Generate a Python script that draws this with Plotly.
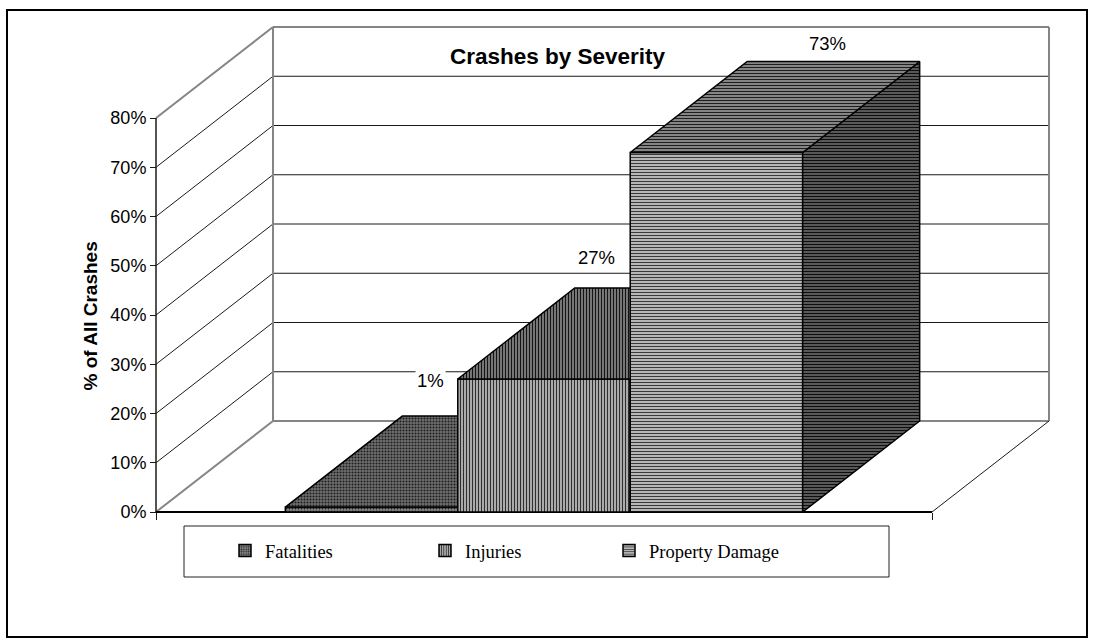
import plotly.graph_objects as go

# ---- data -------------------------------------------------------------
categories = ["Fatalities", "Injuries", "Property Damage"]
shares = [1, 27, 73]                      # % of all crashes
y_ticks = [0, 10, 20, 30, 40, 50, 60, 70, 80]
y_tick_labels = [f"{t}%" for t in y_ticks]
chart_title = "Crashes by Severity"
y_title = "% of All Crashes"

# ---- page / projection geometry --------------------------------------
W, H = 1094, 644
FRONT_LEFT_PX, FRONT_RIGHT_PX = 156, 932   # front floor edge on the page
ZERO_PX = 512                               # 0% on the front plane
PX_PER_PCT = 4.925
DEPTH_PX_X, DEPTH_PX_Y = 117, 91            # oblique depth of the chart box

CAT_PX = FRONT_RIGHT_PX - FRONT_LEFT_PX
DX = DEPTH_PX_X / CAT_PX                    # depth in category units
DY = DEPTH_PX_Y / PX_PER_PCT                # depth in % units
Y_MAX = y_ticks[-1]
GAP_WIDTH = 1.5                             # gap as a fraction of bar width

X_RANGE = [-FRONT_LEFT_PX / CAT_PX, (W - FRONT_LEFT_PX) / CAT_PX]
Y_RANGE = [-(H - ZERO_PX) / PX_PER_PCT, ZERO_PX / PX_PER_PCT]

n = len(categories)
bar_w = 1.0 / (n + GAP_WIDTH)
group_start = GAP_WIDTH * bar_w / 2

SANS = "Arial, Liberation Sans, sans-serif"
SERIF = "Times New Roman, Liberation Serif, serif"

# face patterns: (shape, fg, bg, size, solidity)
faces = {
    "Fatalities": {
        "front": (".", "#1e1e1e", "#8a8a8a", 3, 0.4),
        "top": (".", "#1e1e1e", "#707070", 3, 0.4),
        "side": (".", "#111111", "#555555", 3, 0.4),
    },
    "Injuries": {
        "front": ("|", "#2e2e2e", "#c4c4c4", 3, 0.45),
        "top": ("|", "#141414", "#8a8a8a", 3, 0.45),
        "side": ("|", "#111111", "#666666", 3, 0.45),
    },
    "Property Damage": {
        "front": ("-", "#3a3a3a", "#d0d0d0", 3, 0.45),
        "top": ("-", "#1e1e1e", "#9a9a9a", 3, 0.45),
        "side": ("-", "#0e0e0e", "#707070", 3, 0.5),
    },
}

# label placement relative to the centre of each bar's top face
label_dx = [0.0, -0.008, 0.068]
label_dy = [7.3, 6.3, 3.7]


def pat(spec):
    shape, fg, bg, size, sol = spec
    return dict(shape=shape, fgcolor=fg, bgcolor=bg, size=size,
                solidity=sol, fillmode="replace")


fig = go.Figure()


def lines(xs, ys, color, width):
    fig.add_trace(go.Scatter(x=xs, y=ys, mode="lines", hoverinfo="skip",
                             line=dict(color=color, width=width),
                             showlegend=False, xaxis="x", yaxis="y"))


GRAY = "#858585"
# side wall gridlines (diagonals) and back wall gridlines
gx, gy, ex, ey = [], [], [], []
for t in y_ticks:
    seg_x = [0, DX, None, DX, 1 + DX, None]
    seg_y = [t, t + DY, None, t + DY, t + DY, None]
    if t in (0, Y_MAX):
        ex += seg_x
        ey += seg_y
    else:
        gx += seg_x
        gy += seg_y
# back wall vertical edges
ex += [DX, DX, None, 1 + DX, 1 + DX, None]
ey += [DY, Y_MAX + DY, None, DY, Y_MAX + DY, None]
lines(gx, gy, "#1a1a1a", 1)
lines(ex, ey, GRAY, 2)
# floor right edge
lines([1, 1 + DX], [0, DY], "#1a1a1a", 1)
# front value axis line and floor front edge
lines([0, 0], [0, Y_MAX], "#1a1a1a", 1.5)
lines([0, 1], [0, 0], "#000000", 2)

# bars, each on its own overlaid subplot so later bars sit in front
for i, (name, v) in enumerate(zip(categories, shares)):
    xa, ya = f"x{i + 2}", f"y{i + 2}"
    x_l = group_start + i * bar_w
    x_r = x_l + bar_w
    st = faces[name]
    fig.add_trace(go.Bar(
        x=[x_l + bar_w / 2], y=[v], width=[bar_w], name=name,
        xaxis=xa, yaxis=ya, hoverinfo="skip",
        legend="legend" if i == 0 else f"legend{i + 1}",
        marker=dict(color=st["front"][2], pattern=pat(st["front"]),
                    line=dict(color="black", width=1.5)),
    ))
    fig.add_trace(go.Scatter(
        x=[x_r, x_r + DX, x_r + DX, x_r, x_r],
        y=[0, DY, v + DY, v, 0],
        fill="toself", fillcolor=st["side"][2], fillpattern=pat(st["side"]),
        mode="lines", line=dict(color="black", width=1.5),
        xaxis=xa, yaxis=ya, showlegend=False, hoverinfo="skip"))
    fig.add_trace(go.Scatter(
        x=[x_l, x_r, x_r + DX, x_l + DX, x_l],
        y=[v, v, v + DY, v + DY, v],
        fill="toself", fillcolor=st["top"][2], fillpattern=pat(st["top"]),
        mode="lines", line=dict(color="black", width=1.5),
        xaxis=xa, yaxis=ya, showlegend=False, hoverinfo="skip"))

# value labels
annotations = []
for i, v in enumerate(shares):
    cx = group_start + (i + 0.5) * bar_w + DX / 2 + label_dx[i]
    annotations.append(dict(
        x=cx, y=v + DY + label_dy[i], xref="x", yref="y",
        text=f"{v}%", showarrow=False, bgcolor="white",
        font=dict(family=SANS, size=18.5, color="black")))

annotations.append(dict(
    x=558 / W, y=1 - 42 / H, xref="paper", yref="paper",
    text=f"<b>{chart_title}</b>", showarrow=False,
    font=dict(family=SANS, size=22.5, color="black")))
annotations.append(dict(
    x=78 / W, y=1 - 316 / H, xref="paper", yref="paper",
    text=f"<b>{y_title}</b>", showarrow=False, textangle=-90,
    font=dict(family=SANS, size=19, color="black")))

shapes = [
    dict(type="rect", xref="paper", yref="paper",
         x0=7 / W, x1=1087 / W, y0=1 - 637 / H, y1=1 - 10 / H,
         line=dict(color="black", width=2), layer="below"),
    dict(type="rect", xref="paper", yref="paper",
         x0=184 / W, x1=889 / W, y0=1 - 577 / H, y1=1 - 526 / H,
         line=dict(color="#222222", width=1)),
]

legend_centres = [245, 445, 629]
legend_common = dict(orientation="h", xanchor="left", yanchor="middle",
                     y=1 - 551 / H, bgcolor="rgba(0,0,0,0)", borderwidth=0,
                     font=dict(family=SERIF, size=18.5, color="black"))
legends = {}
for i, cx in enumerate(legend_centres):
    key = "legend" if i == 0 else f"legend{i + 1}"
    legends[key] = dict(legend_common, x=(cx - 20) / W)

axis_hidden = dict(range=X_RANGE, visible=False, fixedrange=True)
yaxis_hidden = dict(range=Y_RANGE, visible=False, fixedrange=True)

layout = dict(
    width=W, height=H,
    margin=dict(l=0, r=0, t=0, b=0, pad=0),
    paper_bgcolor="white", plot_bgcolor="white",
    barmode="overlay",
    showlegend=True,
    xaxis=dict(range=X_RANGE, anchor="free", position=1 - ZERO_PX / H,
               tickvals=[0, 1], ticks="outside", ticklen=7,
               tickcolor="#1a1a1a", showticklabels=False, showgrid=False,
               zeroline=False, showline=False, fixedrange=True),
    yaxis=dict(range=Y_RANGE, anchor="free", position=FRONT_LEFT_PX / W,
               tickvals=y_ticks, ticktext=y_tick_labels, ticks="outside",
               ticklen=6, tickcolor="#1a1a1a", showgrid=False,
               zeroline=False, showline=False, fixedrange=True,
               tickfont=dict(family=SANS, size=18, color="black")),
    annotations=annotations,
    shapes=shapes,
)
for i in range(n):
    layout[f"xaxis{i + 2}"] = dict(axis_hidden, overlaying="x",
                                   anchor=f"y{i + 2}")
    layout[f"yaxis{i + 2}"] = dict(yaxis_hidden, overlaying="y",
                                   anchor=f"x{i + 2}")
layout.update(legends)

fig.update_layout(**layout)
fig.write_html("out.html")
